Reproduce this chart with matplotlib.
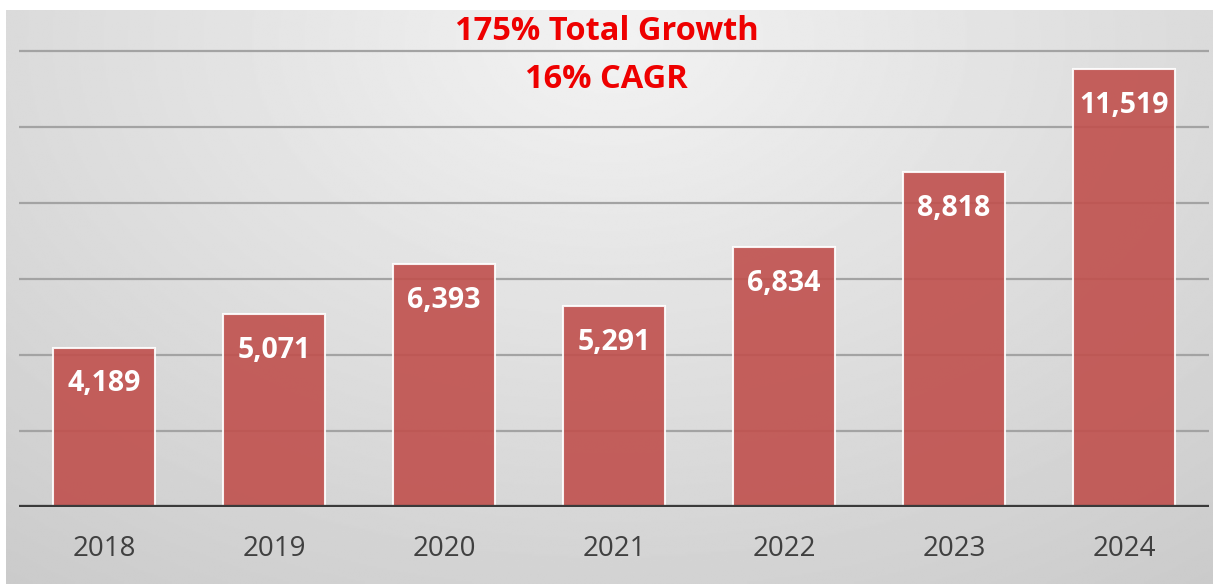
import numpy as np
import matplotlib
matplotlib.use("Agg")
import matplotlib.pyplot as plt

years = ["2018", "2019", "2020", "2021", "2022", "2023", "2024"]
values = [4189, 5071, 6393, 5291, 6834, 8818, 11519]
grid_ticks = [2000, 4000, 6000, 8000, 10000, 12000]
title_lines = ["175% Total Growth", "16% CAGR"]

plt.rcParams['font.family'] = ['Open Sans', 'DejaVu Sans']

W, H = 1213, 584
fig = plt.figure(figsize=(W / 100, H / 100), dpi=100)
fig.patch.set_facecolor("white")

# radial grey background panel
bg = fig.add_axes([6 / W, 0, 1 - 6 / W, 574 / H])
bg.set_axis_off()
yy, xx = np.mgrid[0:1:300j, 0:1:600j]
r = np.sqrt(((xx - 0.5) / 0.8) ** 2 + ((yy - 0.05) / 1.15) ** 2)
shade = 0.95 - 0.15 * np.clip(r, 0, 1.2)
bg.imshow(shade, cmap="gray", vmin=0, vmax=1, aspect="auto",
          extent=[0, 1, 0, 1], origin="upper", interpolation="bilinear")
bg.set_xlim(0, 1)
bg.set_ylim(0, 1)

ax = fig.add_axes([19 / W, (H - 507) / H, 1190 / W, 494 / H])
ax.patch.set_alpha(0)
x = np.arange(len(years))

for g in grid_ticks:
    ax.axhline(g, color="#a3a3a3", lw=1.6, zorder=1)

bars = ax.bar(x, values, width=0.6, color="#C0504D", alpha=0.9,
              edgecolor="white", linewidth=1.5, zorder=2)
ax.axhline(0, color="#3a3a3a", lw=3.8, zorder=3)

for xi, v in zip(x, values):
    ax.annotate(f"{v:,}", (xi, v), xytext=(0, -26), textcoords="offset points",
                ha="center", va="center", color="white", fontsize=20.5,
                fontweight="bold", zorder=4)

ax.set_xlim(-0.5, 6.5)
ax.set_ylim(0, 13000)
ax.set_yticks([])
ax.set_xticks(x)
ax.set_xticklabels(years, fontsize=20, color="#404040")
ax.tick_params(axis="x", length=0, pad=20)
for s in ax.spines.values():
    s.set_visible(False)

fig.text(0.5, 1 - 31 / H, title_lines[0], ha="center", va="center",
         color="#ee0000", fontsize=23.5, fontweight="bold")
fig.text(0.5, 1 - 80 / H, title_lines[1], ha="center", va="center",
         color="#ee0000", fontsize=23.5, fontweight="bold")

fig.savefig("out.png", dpi=100)
